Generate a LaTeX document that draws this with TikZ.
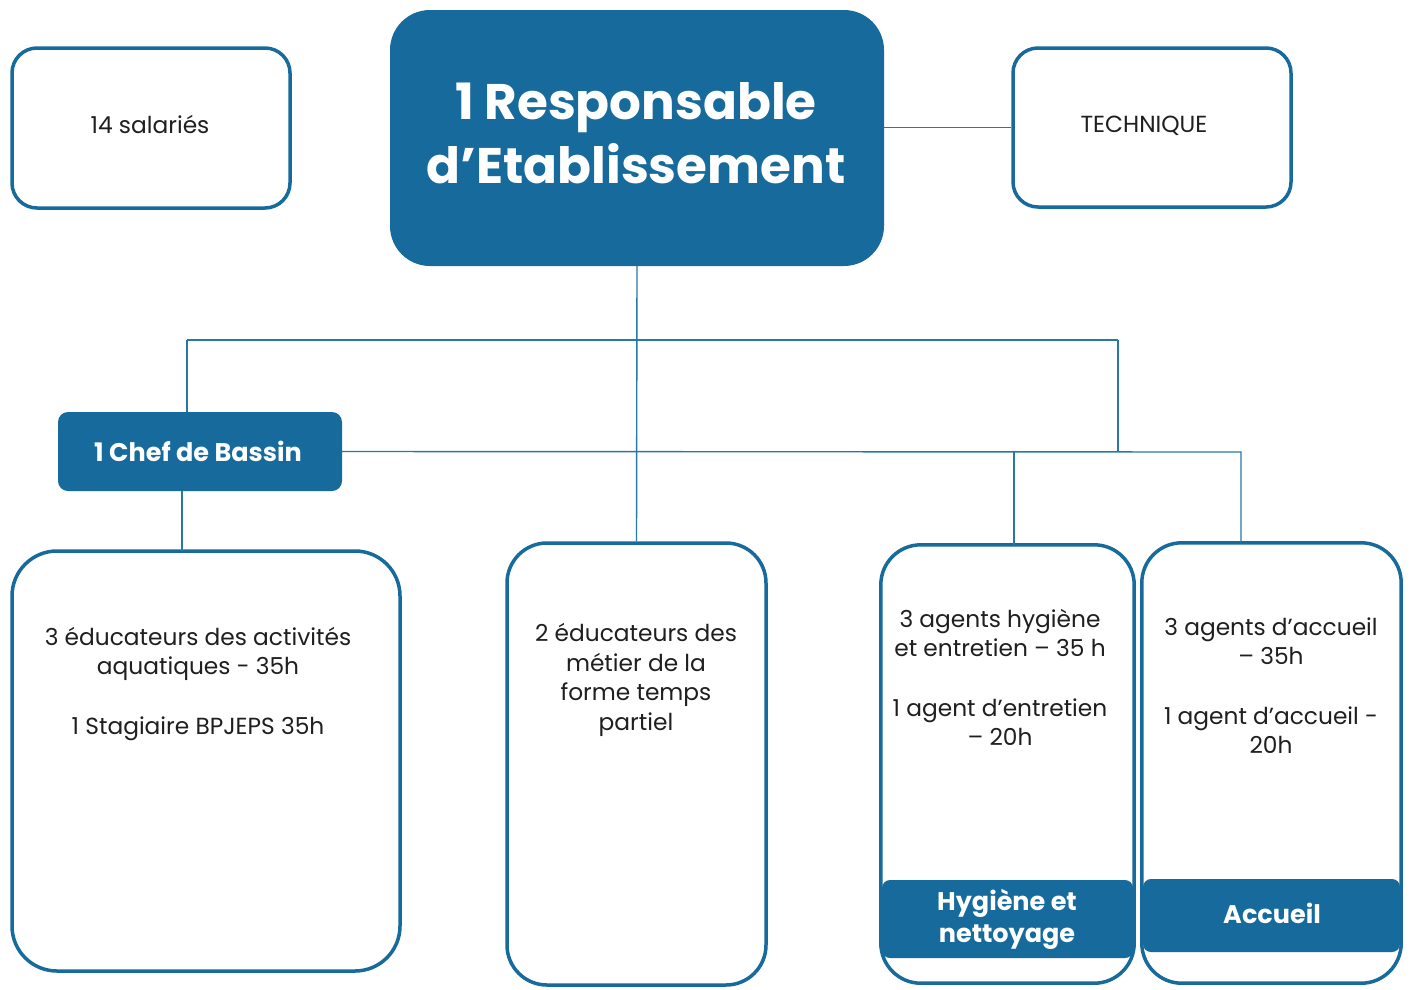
\documentclass[tikz,border=0pt]{standalone}
\usepackage{fontspec}
\setmainfont{Poppins}
\definecolor{bleu}{RGB}{22,106,156}
\definecolor{trait}{RGB}{40,120,165}
\begin{document}
\begin{tikzpicture}[x=1pt,y=-1pt,
  box/.style={draw=bleu, line width=3.5pt, rounded corners=#1, fill=white, inner sep=0pt},
  box/.default=25pt,
  plain/.style={draw=none, fill=white, inner sep=0pt},
  border/.style={draw=bleu, line width=3.5pt, rounded corners=40pt},
  filled/.style={fill=bleu, draw=none, rounded corners=#1, inner sep=0pt},
  filled/.default=10pt,
  txt/.style={align=center, inner sep=0pt, font=\fontsize{23.3}{29.5}\selectfont, text=black!88},
  btxt/.style={align=center, inner sep=0pt, text=white, font=\bfseries\fontsize{25.5}{32}\selectfont},
  link/.style={draw=trait, line width=1.4pt}]
\useasboundingbox (0,0) rectangle (1411,989);
\fill[white] (0,0) rectangle (1411,989);

% top row
\node[box, minimum width=278pt, minimum height=160pt] (sal) at (151,128) {};
\node[txt] (salT) at (150,124) {14 salariés};
\node[filled=40pt, minimum width=494pt, minimum height=256pt] (resp) at (637,138) {};
\node[btxt, font=\bfseries\fontsize{50}{64}\selectfont] (respT) at (636,133) {1 Responsable\\d’Etablissement};
\node[box, minimum width=278pt, minimum height=159pt] (tech) at (1152,127.5) {};
\node[txt] (techT) at (1144,126) {TECHNIQUE};

% chef
\node[filled=10pt, minimum width=284pt, minimum height=79pt] (chef) at (200,451.5) {};
\node[btxt] (chefT) at (198,451) {1 Chef de Bassin};

% bottom boxes
\node[box=45pt, minimum width=388pt, minimum height=420pt] (b1) at (206,761) {};
\node[box=40pt, minimum width=259pt, minimum height=442pt] (b2) at (636.5,764) {};
\node[plain, minimum width=253pt, minimum height=438pt] (b3) at (1007.5,764) {};
\node[plain, minimum width=259pt, minimum height=440pt] (b4) at (1271.5,763) {};

% bands
\node[filled=8pt, minimum width=251pt, minimum height=78pt] (band3) at (1007.5,919) {};
\node[filled=8pt, minimum width=257pt, minimum height=73pt] (band4) at (1271.5,915.5) {};
\draw[border] (b3.south west) rectangle (b3.north east);
\draw[border] (b4.south west) rectangle (b4.north east);
\node[btxt] (band3T) at (1007,919) {Hygiène et\\nettoyage};
\node[btxt] (band4T) at (1272,913) {Accueil};

% texts
\node[txt] (b1T) at (198,684) {3 éducateurs des activités\\aquatiques - 35h\\[30pt]1 Stagiaire BPJEPS 35h};
\node[txt] (b2T) at (636,680) {2 éducateurs des\\métier de la\\forme temps\\partiel};
\node[txt] (b3T) at (1000,677.5) {3 agents hygiène\\et entretien – 35 h\\[30pt]1 agent d’entretien\\– 20h};
\node[txt] (b4T) at (1271,685.5) {3 agents d’accueil\\– 35h\\[30pt]1 agent d’accueil -\\20h};

% connectors
\coordinate (jL) at (187,340);
\coordinate (jR) at (1118,340);
\coordinate (hR) at (1241,452);
\coordinate (h3) at (1014,452);
\coordinate (hT) at (1118,452);
\coordinate (c1) at (182,491);
\coordinate (c2) at (182,551);
\draw[link] (resp.east |- tech.west) -- (tech.west);
\draw[link] (resp.south) -- (b2.north);
\draw[link] (jL) -- (jR);
\draw[link] (jL) -- (jL |- chef.north);
\draw[link] (jR) -- (hT);
\draw[link] (chef.east) -- (hR) -- (hR |- b4.north);
\draw[link] (h3) -- (h3 |- b3.north);
\draw[link] (c1) -- (c2);
\end{tikzpicture}
\end{document}
